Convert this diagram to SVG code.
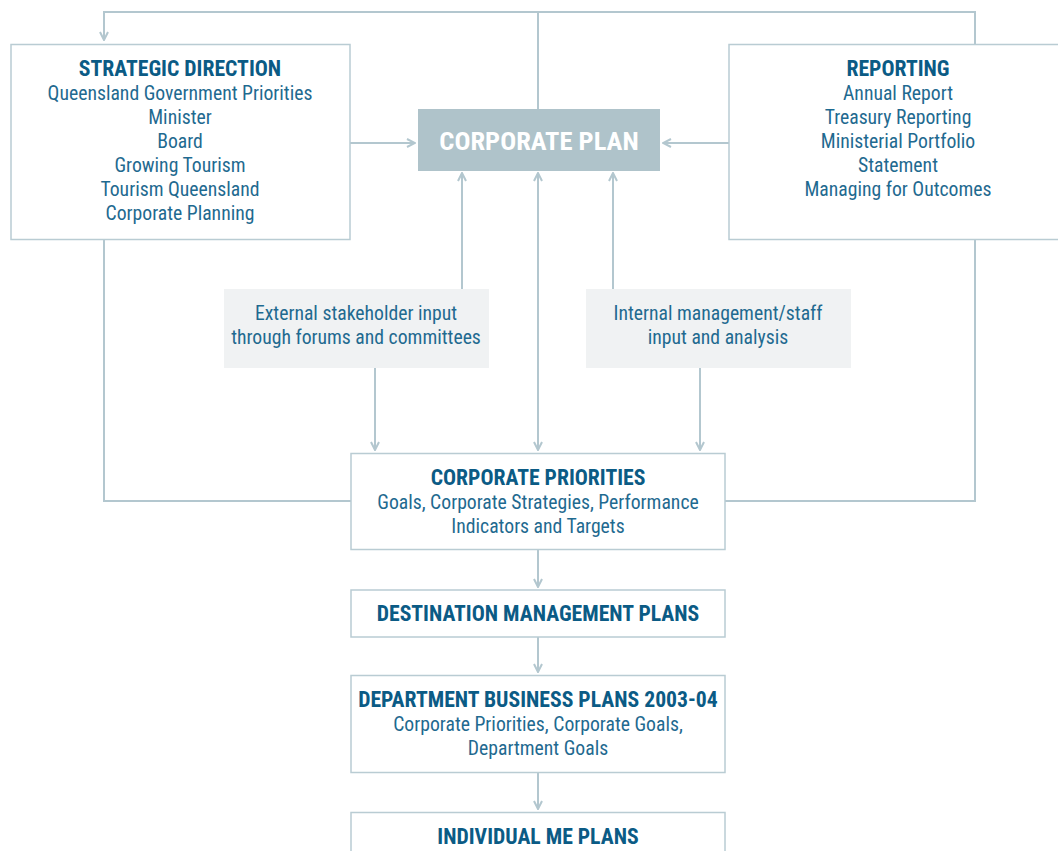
<svg xmlns="http://www.w3.org/2000/svg" width="1058" height="851" viewBox="0 0 1058 851">
<defs>
<style>
.box{fill:#ffffff;stroke:#b9ccd3;stroke-width:1.5}
.grey{fill:#f0f2f3;stroke:none}
.ln{fill:none;stroke:#b3c7cf;stroke-width:2}
.t{font-family:"Liberation Sans Narrow","Roboto Condensed","Liberation Sans",sans-serif;font-size:19.7px;fill:#1f6a90;text-anchor:middle}
.h{font-family:"Liberation Sans Narrow","Roboto Condensed","Liberation Sans",sans-serif;font-size:21.7px;font-weight:bold;fill:#0b5b85;text-anchor:middle}
.cp{font-family:"Liberation Sans Narrow","Roboto Condensed","Liberation Sans",sans-serif;font-size:26.5px;font-weight:bold;fill:#ffffff;text-anchor:middle}
</style>
<marker id="ah" viewBox="0 0 10 10" refX="9" refY="5" markerWidth="10" markerHeight="10" markerUnits="userSpaceOnUse" orient="auto-start-reverse">
<path d="M1,1 L9,5 L1,9" fill="none" stroke="#b3c7cf" stroke-width="2"/>
</marker>
</defs>
<rect width="1058" height="851" fill="#ffffff"/>
<g id="connectors">
<path class="ln" d="M975,44 V12 H104 V40" marker-end="url(#ah)"/>
<path class="ln" d="M538,12 V109"/>
<path class="ln" d="M350,143 H415" marker-end="url(#ah)"/>
<path class="ln" d="M729,143 H663" marker-end="url(#ah)"/>
<path class="ln" d="M462,289 V173" marker-end="url(#ah)"/>
<path class="ln" d="M613,289 V173" marker-end="url(#ah)"/>
<path class="ln" d="M538,173 V450" marker-start="url(#ah)" marker-end="url(#ah)"/>
<path class="ln" d="M375,368 V450" marker-end="url(#ah)"/>
<path class="ln" d="M700,368 V450" marker-end="url(#ah)"/>
<path class="ln" d="M104,239 V501 H351"/>
<path class="ln" d="M975,239 V501 H725"/>
<path class="ln" d="M538,549 V587" marker-end="url(#ah)"/>
<path class="ln" d="M538,637 V672" marker-end="url(#ah)"/>
<path class="ln" d="M538,772 V809" marker-end="url(#ah)"/>
</g>
<g id="strategic">
<rect class="box" x="11" y="44.5" width="339" height="195"/>
<text class="h" x="180" y="76">STRATEGIC DIRECTION</text>
<text class="t" x="180" y="100">Queensland Government Priorities</text>
<text class="t" x="180" y="124">Minister</text>
<text class="t" x="180" y="148">Board</text>
<text class="t" x="180" y="172">Growing Tourism</text>
<text class="t" x="180" y="196">Tourism Queensland</text>
<text class="t" x="180" y="220">Corporate Planning</text>
</g>
<g id="reporting">
<rect class="box" x="729" y="44.5" width="340" height="195"/>
<text class="h" x="898" y="76">REPORTING</text>
<text class="t" x="898" y="100">Annual Report</text>
<text class="t" x="898" y="124">Treasury Reporting</text>
<text class="t" x="898" y="148">Ministerial Portfolio</text>
<text class="t" x="898" y="172">Statement</text>
<text class="t" x="898" y="196">Managing for Outcomes</text>
</g>
<g id="corporate-plan">
<rect x="418" y="109" width="242" height="62" fill="#afc3ca"/>
<text class="cp" x="539" y="150">CORPORATE PLAN</text>
</g>
<g id="external">
<rect class="grey" x="224" y="289" width="265" height="79"/>
<text class="t" x="356" y="320">External stakeholder input</text>
<text class="t" x="356" y="344">through forums and committees</text>
</g>
<g id="internal">
<rect class="grey" x="586" y="289" width="265" height="79"/>
<text class="t" x="718" y="320">Internal management/staff</text>
<text class="t" x="718" y="344">input and analysis</text>
</g>
<g id="priorities">
<rect class="box" x="351" y="453.5" width="374" height="96"/>
<text class="h" x="538" y="485">CORPORATE PRIORITIES</text>
<text class="t" x="538" y="509">Goals, Corporate Strategies, Performance</text>
<text class="t" x="538" y="533">Indicators and Targets</text>
</g>
<g id="destination">
<rect class="box" x="351" y="590" width="374" height="47"/>
<text class="h" x="538" y="621">DESTINATION MANAGEMENT PLANS</text>
</g>
<g id="department">
<rect class="box" x="351" y="675.5" width="374" height="97"/>
<text class="h" x="538" y="707">DEPARTMENT BUSINESS PLANS 2003-04</text>
<text class="t" x="538" y="731">Corporate Priorities, Corporate Goals,</text>
<text class="t" x="538" y="755">Department Goals</text>
</g>
<g id="individual">
<rect class="box" x="351" y="812.5" width="374" height="60"/>
<text class="h" x="538" y="844">INDIVIDUAL ME PLANS</text>
</g>
</svg>
